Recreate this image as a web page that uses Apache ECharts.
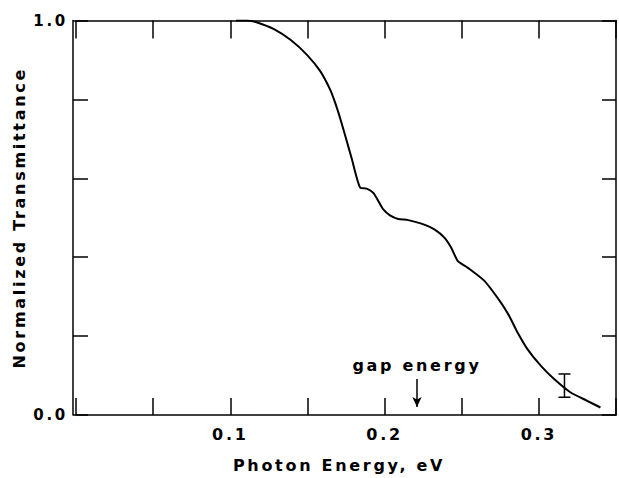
<!DOCTYPE html>
<html>
<head>
<meta charset="utf-8">
<script src="https://cdn.jsdelivr.net/npm/echarts@6/dist/echarts.min.js"></script>
<style>
  html, body { margin: 0; padding: 0; background: #fff; }
  #main { width: 619px; height: 478px; }
  /* wide tracking of the original lettering */
  #main text { letter-spacing: 2.7px; }
</style>
</head>
<body>
<div id="main"></div>
<script>
// photon energy (eV) and normalized transmittance
var energy = [0.1036, 0.1111, 0.1175, 0.1283, 0.1390, 0.1497, 0.1584, 0.1648, 0.1680, 0.1713, 0.1745, 0.1787, 0.1842,
    0.1884, 0.1927, 0.1960, 0.1992, 0.2035, 0.2088, 0.2153, 0.2239, 0.2325, 0.2389, 0.2432, 0.2475,
    0.2540, 0.2647, 0.2754, 0.2808, 0.2862, 0.2926, 0.3012, 0.3099, 0.3206, 0.3313, 0.3399];
var trans = [1.0, 1.0, 0.995, 0.978, 0.951, 0.913, 0.871, 0.824, 0.791, 0.751, 0.708, 0.650, 0.576,
    0.574, 0.563, 0.542, 0.521, 0.506, 0.497, 0.494, 0.485, 0.470, 0.449, 0.424, 0.390,
    0.373, 0.340, 0.285, 0.251, 0.209, 0.167, 0.125, 0.091, 0.057, 0.036, 0.019];

// error bar
var errX = [0.3166];
var errLow = [0.045];
var errHigh = [0.104];

// gap energy marker
var gapX = 0.221;
var gapArrow = [0.091, 0.020];

var font = 'DejaVu Sans';

var chart = echarts.init(document.getElementById('main'), null, {renderer: 'svg'});

function frameAxis(extra) {
    return Object.assign({
        type: 'value',
        axisLine: {show: true, onZero: false, lineStyle: {color: '#000', width: 1.5}},
        splitLine: {show: false}
    }, extra);
}

var option = {
    backgroundColor: '#fff',
    animation: false,
    grid: {left: 76, right: 0.5, top: 20.5, bottom: 62},
    xAxis: [
        frameAxis({
            position: 'bottom',
            min: 0, max: 0.35, interval: 0.05,
            axisTick: {inside: true, length: 17, lineStyle: {color: '#000', width: 1.5}},
            axisLabel: {
                margin: 11, color: '#000', fontFamily: font, fontWeight: 'bold', fontSize: 16,
                formatter: function (v) {
                    var k = Math.round(v * 100);
                    return (k > 0 && k % 10 === 0) ? (k / 100).toFixed(1) : '';
                }
            },
            name: 'Photon Energy, eV',
            nameLocation: 'middle',
            nameGap: 42,
            nameTextStyle: {color: '#000', fontFamily: font, fontWeight: 'bold', fontSize: 16, padding: [0, 14, 0, 0]}
        }),
        frameAxis({
            position: 'top',
            min: 0, max: 0.35, interval: 0.05,
            axisTick: {inside: true, length: 18, lineStyle: {color: '#000', width: 1.5}},
            axisLabel: {show: false}
        })
    ],
    yAxis: [
        frameAxis({
            position: 'left',
            offset: 3,
            min: 0, max: 1, interval: 0.2,
            axisTick: {inside: true, length: 15, lineStyle: {color: '#000', width: 1.5}},
            axisLabel: {
                margin: 5, color: '#000', fontFamily: font, fontWeight: 'bold', fontSize: 15,
                formatter: function (v) {
                    return (v === 0 || v === 1) ? v.toFixed(1) : '';
                }
            },
            name: 'Normalized Transmittance',
            nameLocation: 'middle',
            nameGap: 46,
            nameTextStyle: {color: '#000', fontFamily: font, fontWeight: 'bold', fontSize: 16}
        }),
        frameAxis({
            position: 'right',
            min: 0, max: 1, interval: 0.2,
            axisTick: {inside: true, length: 14, lineStyle: {color: '#000', width: 1.5}},
            axisLabel: {show: false}
        })
    ],
    series: [
        {
            type: 'line',
            data: energy.map(function (e, i) { return [e, trans[i]]; }),
            showSymbol: false,
            smooth: 0.2,
            lineStyle: {color: '#000', width: 2},
            markLine: {
                silent: true,
                symbol: ['none', 'arrow'],
                symbolSize: [7, 10],
                lineStyle: {color: '#000', width: 1.5, type: 'solid'},
                label: {
                    show: true, position: 'start', distance: 6, formatter: 'gap energy',
                    color: '#000', fontFamily: font, fontWeight: 'bold', fontSize: 16
                },
                data: [[{coord: [gapX, gapArrow[0]]}, {coord: [gapX, gapArrow[1]]}]]
            }
        },
        {
            type: 'custom',
            data: errX.map(function (x, i) { return [x, errLow[i], errHigh[i]]; }),
            encode: {x: 0, y: [1, 2]},
            renderItem: function (params, api) {
                var lo = api.coord([api.value(0), api.value(1)]);
                var hi = api.coord([api.value(0), api.value(2)]);
                var w = 6;
                var st = {stroke: '#000', lineWidth: 1.5};
                return {
                    type: 'group',
                    children: [
                        {type: 'line', shape: {x1: lo[0], y1: lo[1], x2: hi[0], y2: hi[1]}, style: st},
                        {type: 'line', shape: {x1: lo[0] - w, y1: lo[1], x2: lo[0] + w, y2: lo[1]}, style: st},
                        {type: 'line', shape: {x1: hi[0] - w, y1: hi[1], x2: hi[0] + w, y2: hi[1]}, style: st}
                    ]
                };
            }
        }
    ]
};

chart.setOption(option);
</script>
</body>
</html>
